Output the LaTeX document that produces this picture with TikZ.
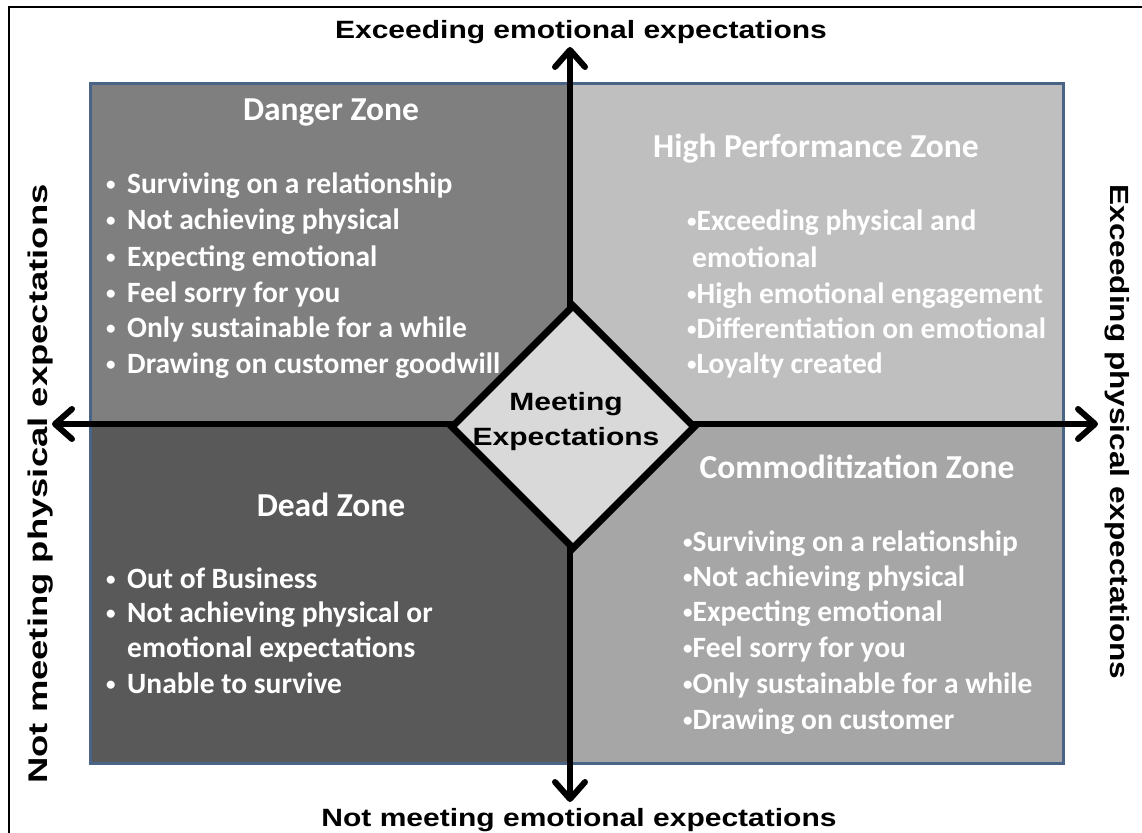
\documentclass[tikz,border=0pt]{standalone}
\usepackage{fontspec}
\usetikzlibrary{arrows.meta,shapes.geometric}
\newfontfamily\axisfont{Liberation Sans}[FakeStretch=1.2]
\newfontfamily\axisfontwide{Liberation Sans}[FakeStretch=1.35]
\newfontfamily\zonefont{Carlito}
\definecolor{qborder}{RGB}{74,100,135}
\definecolor{qdanger}{RGB}{127,127,127}
\definecolor{qhigh}{RGB}{191,191,191}
\definecolor{qdead}{RGB}{89,89,89}
\definecolor{qcomm}{RGB}{166,166,166}
\definecolor{qdiam}{RGB}{217,217,217}
\newcommand\zdot{{\fontsize{19}{19}\selectfont\raisebox{2.5pt}{•}}}
\newcommand\zbul{\makebox[21pt][l]{\zdot}}
\begin{document}
\begin{tikzpicture}[x=1pt,y=-1pt,
  axislabel/.style={font=\axisfont\bfseries\fontsize{25}{35}\selectfont, inner sep=0pt, text=black},
  zonetitle/.style={font=\zonefont\bfseries\fontsize{33.5}{40}\selectfont, text=white, inner sep=0pt, anchor=base},
  zoneitem/.style={font=\zonefont\bfseries\fontsize{29.5}{36}\selectfont, text=white, inner sep=0pt, anchor=base west},
  barb/.tip={Straight Barb[length=17pt,width=30pt,round]},
  axisarrow/.style={line width=6pt, barb-barb},
]
\useasboundingbox (0,0) rectangle (1142,832);
\fill[white] (0,0) rectangle (1142,832);
\begin{scope}
\clip (0,0) rectangle (1142,832);
\draw[line width=2pt, black] (9,7) rectangle (1160,850);
\end{scope}
% quadrants
\coordinate (bl) at (90,84);
\coordinate (br) at (1063,763);
\fill[qdanger] (90,84) rectangle (570,424);
\fill[qhigh] (570,84) rectangle (1063,424);
\fill[qdead] (90,424) rectangle (570,763);
\fill[qcomm] (570,424) rectangle (1063,763);
\draw[qborder, line width=3pt] (bl) rectangle (br);
% Danger zone
\node[zonetitle] (dzt) at (331,121) {Danger Zone};
\node[zoneitem] (dz1) at (106,193) {\zbul Surviving on a relationship};
\node[zoneitem] (dz2) at (106,229) {\zbul Not achieving physical};
\node[zoneitem] (dz3) at (106,266) {\zbul Expecting emotional};
\node[zoneitem] (dz4) at (106,302) {\zbul Feel sorry for you};
\node[zoneitem] (dz5) at (106,337) {\zbul Only sustainable for a while};
\node[zoneitem] (dz6) at (106,373) {\zbul Drawing on customer goodwill};
% High performance zone
\node[zonetitle] (hpt) at (816,157) {High Performance Zone};
\node[zoneitem] (hp1) at (687,230) {\zdot Exceeding physical and};
\node[zoneitem] (hp2) at (692,267) {emotional};
\node[zoneitem] (hp3) at (687,303) {\zdot High emotional engagement};
\node[zoneitem] (hp4) at (687,338) {\zdot Differentiation on emotional};
\node[zoneitem] (hp5) at (687,373) {\zdot Loyalty created};
% Commoditization zone
\node[zonetitle] (czt) at (857,478) {Commoditization Zone};
\node[zoneitem] (cz1) at (683,551) {\zdot Surviving on a relationship};
\node[zoneitem] (cz2) at (683,586) {\zdot Not achieving physical};
\node[zoneitem] (cz3) at (683,621) {\zdot Expecting emotional};
\node[zoneitem] (cz4) at (683,657) {\zdot Feel sorry for you};
\node[zoneitem] (cz5) at (683,693) {\zdot Only sustainable for a while};
\node[zoneitem] (cz6) at (683,729) {\zdot Drawing on customer};
% Dead zone
\node[zonetitle] (dtt) at (331,516) {Dead Zone};
\node[zoneitem] (dd1) at (106,588) {\zbul Out of Business};
\node[zoneitem] (dd2) at (106,622) {\zbul Not achieving physical or};
\node[zoneitem] (dd3) at (127,657) {emotional expectations};
\node[zoneitem] (dd4) at (106,693) {\zbul Unable to survive};
% axes
\coordinate (vtop) at (570,47);
\coordinate (vbot) at (570,802);
\coordinate (hleft) at (52,424);
\coordinate (hright) at (1098,424);
\draw[axisarrow] (vbot) -- (vtop);
\draw[axisarrow] (hleft) -- (hright);
% centre diamond
\node[diamond, shape aspect=1, draw=black, line width=7pt, fill=qdiam, minimum size=245pt, inner sep=0pt] (me) at (573,427) {};
\node[axislabel, align=center] (metext) at (566,422) {Meeting\\Expectations};
% axis labels
\node[axislabel, anchor=base] (lt) at (581,39) {Exceeding emotional expectations};
\node[axislabel, anchor=base] (lb) at (579,826) {Not meeting emotional expectations};
\node[axislabel, font=\axisfontwide\bfseries\fontsize{27}{30}\selectfont, rotate=90] (ll) at (41,484) {Not meeting physical expectations};
\node[axislabel, font=\axisfont\bfseries\fontsize{26.3}{30}\selectfont, rotate=-90] (lr) at (1117,432) {Exceeding physical expectations};
\end{tikzpicture}
\end{document}
